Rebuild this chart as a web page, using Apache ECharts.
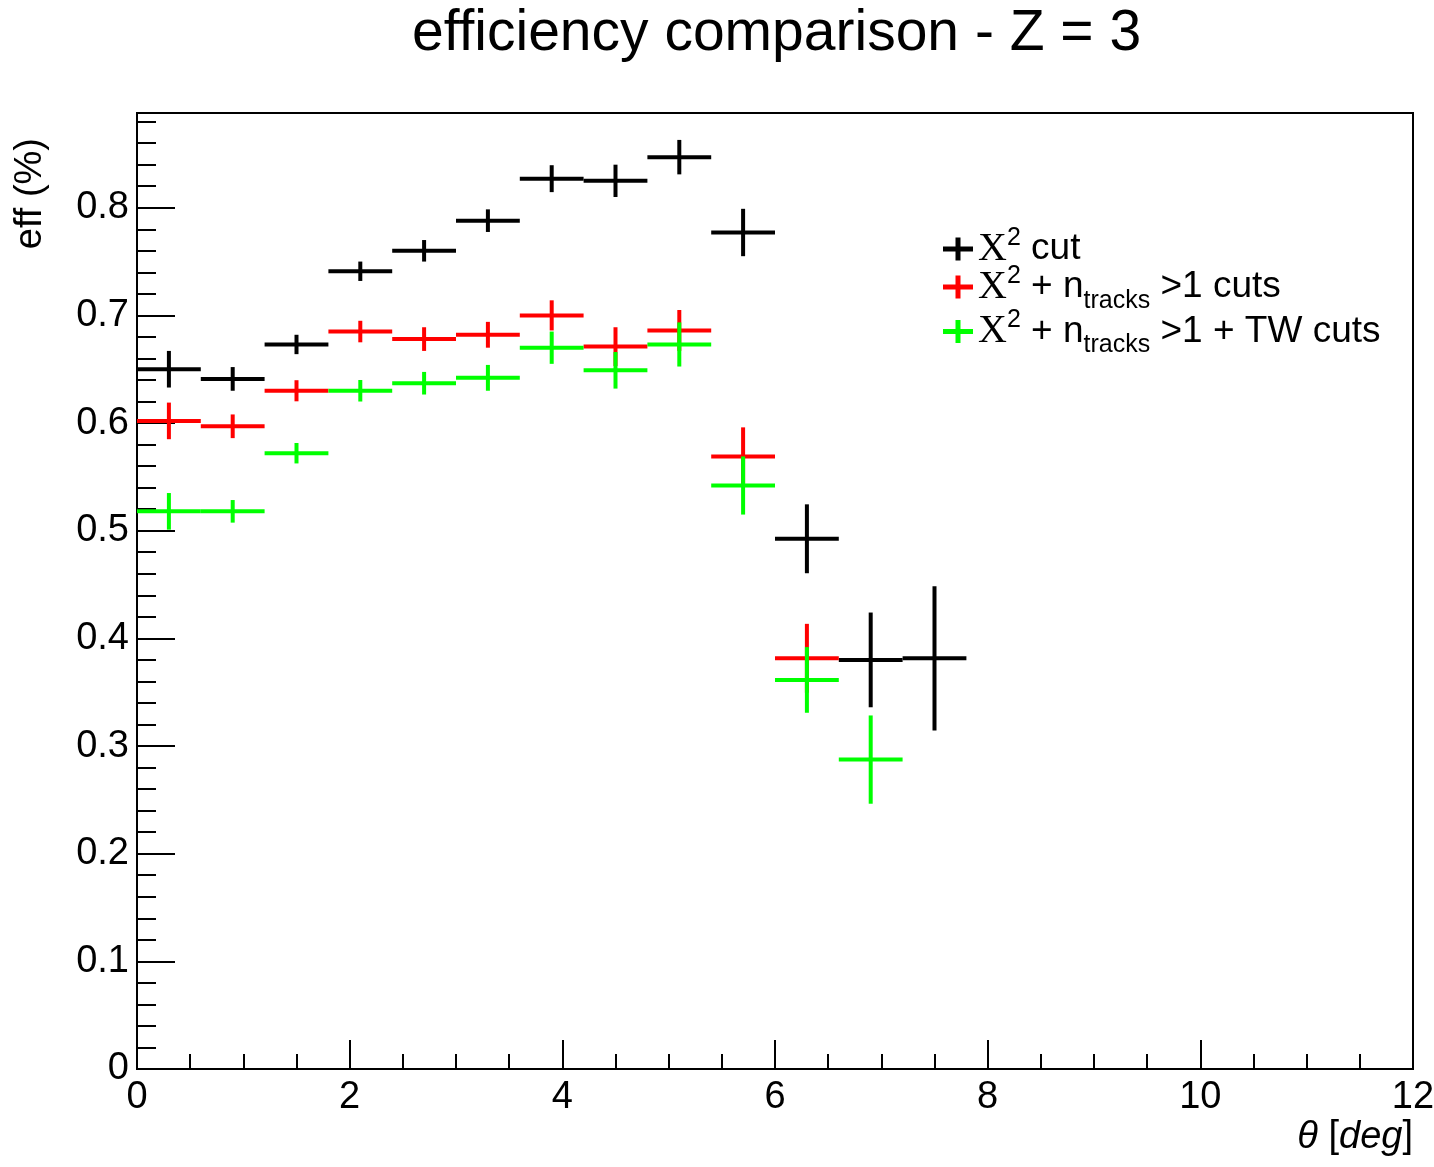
<!DOCTYPE html>
<html>
<head>
<meta charset="utf-8">
<title>efficiency comparison - Z = 3</title>
<script src="https://cdn.jsdelivr.net/npm/echarts@6/dist/echarts.min.js"></script>
<style>
  html, body { margin: 0; padding: 0; background: #fff; }
  #chart { width: 1434px; height: 1167px; }
</style>
</head>
<body>
<div id="chart"></div>
<script>
// bin centres (deg), bins are 0.6 deg wide
var binCenters = [0.3, 0.9, 1.5, 2.1, 2.7, 3.3, 3.9, 4.5, 5.1, 5.7, 6.3, 6.9, 7.5];
var binHalfWidth = 0.3;

// chi2 cut
var effChi2 = [0.650, 0.641, 0.673, 0.741, 0.760, 0.788, 0.827, 0.825, 0.847, 0.777, 0.4925, 0.380, 0.3815];
var errChi2 = [0.017, 0.011, 0.009, 0.009, 0.010, 0.0105, 0.0125, 0.015, 0.016, 0.022, 0.032, 0.044, 0.067];

// chi2 + ntracks>1
var effNtracks = [0.602, 0.597, 0.630, 0.685, 0.678, 0.682, 0.700, 0.671, 0.686, 0.569, 0.3815];
var errNtracks = [0.017, 0.011, 0.0098, 0.010, 0.011, 0.012, 0.014, 0.018, 0.019, 0.027, 0.032];

// chi2 + ntracks>1 + TW
var effTW = [0.518, 0.518, 0.572, 0.630, 0.637, 0.642, 0.670, 0.649, 0.673, 0.542, 0.3614, 0.2874];
var errTW = [0.017, 0.0105, 0.0095, 0.010, 0.0105, 0.012, 0.015, 0.017, 0.0205, 0.027, 0.0305, 0.041];

var xTicks = [0, 2, 4, 6, 8, 10, 12];
var yMax = 0.888;

var seriesNames = ['chi2 cut', 'chi2 + ntracks>1 cuts', 'chi2 + ntracks>1 + TW cuts'];
var legendText = {
  'chi2 cut': '{x|X}{sup|2}{t| cut}',
  'chi2 + ntracks>1 cuts': '{x|X}{sup|2}{t| + n}{sub|tracks}{t| >1 cuts}',
  'chi2 + ntracks>1 + TW cuts': '{x|X}{sup|2}{t| + n}{sub|tracks}{t| >1 + TW cuts}'
};

function toPoints(vals, errs) {
  var out = [];
  for (var i = 0; i < vals.length; i++) {
    out.push([binCenters[i], vals[i], errs[i]]);
  }
  return out;
}

// ROOT style cross: full bin width + vertical error
function renderCross(params, api) {
  var x = api.value(0), y = api.value(1), e = api.value(2);
  var l = api.coord([x - binHalfWidth, y]);
  var r = api.coord([x + binHalfWidth, y]);
  var lo = api.coord([x, y - e]);
  var hi = api.coord([x, y + e]);
  var c = api.visual('color');
  return {
    type: 'group',
    children: [
      {type: 'line', shape: {x1: l[0], y1: l[1], x2: r[0], y2: r[1]}, style: {stroke: c, lineWidth: 4}},
      {type: 'line', shape: {x1: lo[0], y1: lo[1], x2: hi[0], y2: hi[1]}, style: {stroke: c, lineWidth: 4}}
    ]
  };
}

var crossIcon = 'path://M12.5,0H17.5V9H30V14H17.5V23H12.5V14H0V9H12.5Z';
var font = 'Liberation Sans';

var chart = echarts.init(document.getElementById('chart'));

var option = {
  backgroundColor: '#fff',
  animation: false,
  title: {
    text: 'efficiency comparison - Z = 3',
    left: 407,
    top: 1,
    textStyle: {fontFamily: font, fontSize: 57, fontWeight: 'normal', color: '#000'}
  },
  grid: {
    left: 137, right: 21, top: 113, bottom: 98,
    show: true, borderColor: '#000', borderWidth: 2,
    outerBoundsMode: 'none'
  },
  legend: {
    orient: 'vertical',
    left: 938,
    top: 220,
    itemWidth: 30,
    itemHeight: 23,
    itemGap: -6,
    data: seriesNames.map(function (n) { return {name: n, icon: crossIcon}; }),
    formatter: function (name) { return legendText[name]; },
    textStyle: {
      color: '#000',
      rich: {
        x: {fontFamily: 'Liberation Serif', fontSize: 40, lineHeight: 48, color: '#000'},
        t: {fontFamily: font, fontSize: 37, lineHeight: 48, color: '#000'},
        sup: {fontFamily: font, fontSize: 25, lineHeight: 20, height: 26, verticalAlign: 'top', color: '#000'},
        sub: {fontFamily: font, fontSize: 25, lineHeight: 20, height: 20, verticalAlign: 'bottom', color: '#000'}
      }
    }
  },
  xAxis: {
    type: 'value',
    min: xTicks[0],
    max: xTicks[xTicks.length - 1],
    interval: xTicks[1] - xTicks[0],
    axisLine: {show: true, lineStyle: {color: '#000', width: 2}},
    axisTick: {show: true, inside: true, length: 29, lineStyle: {color: '#000', width: 2}},
    minorTick: {show: true, splitNumber: 4, length: 15, lineStyle: {color: '#000', width: 2}},
    axisLabel: {fontFamily: font, fontSize: 38, color: '#000', margin: 10},
    splitLine: {show: false}
  },
  yAxis: [{
    type: 'value',
    min: 0,
    max: yMax,
    interval: 0.1,
    axisLine: {show: true, lineStyle: {color: '#000', width: 2}},
    axisTick: {show: true, inside: true, length: 38, lineStyle: {color: '#000', width: 2}},
    axisLabel: {fontFamily: font, fontSize: 38, color: '#000', margin: 8, showMaxLabel: false},
    splitLine: {show: false}
  }, {
    // minor ticks every 0.02
    type: 'value',
    position: 'left',
    min: 0,
    max: yMax,
    interval: 0.02,
    axisLine: {show: false},
    axisTick: {show: true, inside: true, length: 19, lineStyle: {color: '#000', width: 2}},
    axisLabel: {show: false},
    splitLine: {show: false}
  }],
  graphic: [{
    type: 'text',
    x: 31, y: 138,
    rotation: Math.PI / 2,
    style: {text: 'eff (%)', fontFamily: font, fontSize: 38, fill: '#000', align: 'right', verticalAlign: 'middle'}
  }, {
    type: 'text',
    x: 1413, y: 1137,
    style: {
      text: '{i|θ }{n|[}{i|deg}{n|]}',
      align: 'right', verticalAlign: 'middle',
      rich: {
        i: {fontFamily: font, fontSize: 38, fontStyle: 'italic', fill: '#000'},
        n: {fontFamily: font, fontSize: 38, fill: '#000'}
      }
    }
  }],
  series: [{
    name: seriesNames[0],
    type: 'custom',
    renderItem: renderCross,
    itemStyle: {color: '#000000'},
    encode: {x: 0, y: 1},
    data: toPoints(effChi2, errChi2),
    z: 2
  }, {
    name: seriesNames[1],
    type: 'custom',
    renderItem: renderCross,
    itemStyle: {color: '#ff0000'},
    encode: {x: 0, y: 1},
    data: toPoints(effNtracks, errNtracks),
    z: 3
  }, {
    name: seriesNames[2],
    type: 'custom',
    renderItem: renderCross,
    itemStyle: {color: '#00ff00'},
    encode: {x: 0, y: 1},
    data: toPoints(effTW, errTW),
    z: 4
  }]
};

chart.setOption(option);
</script>
</body>
</html>
